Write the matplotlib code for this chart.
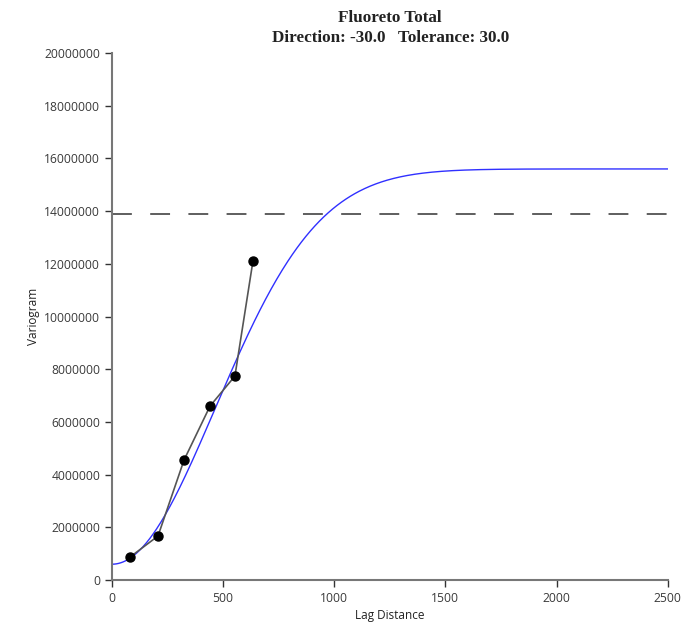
import matplotlib.pyplot as plt
import numpy as np

# experimental variogram (lag centres and semivariance)
lag = [81, 207, 324, 441, 553, 634]
gamma = [870000, 1670000, 4550000, 6600000, 7740000, 12100000]

# sample variance and fitted gaussian model
sample_var = 13890000
nugget = 600000
sill = 15000000
model_range = 1136

h = np.linspace(0, 2500, 500)
model = nugget + sill * (1 - np.exp(-3 * (h / model_range) ** 2))

fig = plt.figure(figsize=(6.87, 6.28), dpi=100)
ax = fig.add_axes([0.163, 0.0764, 0.809, 0.8392])

ax.axhline(sample_var, color='#333333', lw=1.1, dashes=(13, 12))
ax.plot(h, model, color='#3030ff', lw=1.0)
ax.plot(lag, gamma, color='#555555', lw=1.2, marker='o',
        markersize=6.5, markerfacecolor='black', markeredgecolor='black')

ax.set_xlim(0, 2500)
ax.set_ylim(0, 20000000)
ax.set_xticks([0, 500, 1000, 1500, 2000, 2500])
ax.set_yticks(np.arange(0, 20000001, 2000000))
ax.yaxis.set_major_formatter(plt.FuncFormatter(lambda v, p: f'{int(v)}'))

for s in ['top', 'right']:
    ax.spines[s].set_visible(False)
for s in ['left', 'bottom']:
    ax.spines[s].set_color('#777777')
    ax.spines[s].set_linewidth(1.5)
ax.tick_params(direction='out', length=5, width=1, color='#333333',
               labelsize=8.7, labelcolor='#3a3a3a')
for lab in ax.get_xticklabels() + ax.get_yticklabels():
    lab.set_family('Open Sans')

ax.set_xlabel('Lag Distance', fontsize=8.5, family='Open Sans', color='#222222', labelpad=3)
ax.set_ylabel('Variogram', fontsize=8.5, family='Open Sans', color='#222222', labelpad=3)

fig.text(0.568, 0.972, 'Fluoreto Total', ha='center', va='center',
         family='Liberation Serif', fontweight='bold', fontsize=12.3, color='#222222')
fig.text(0.568, 0.939, 'Direction: -30.0   Tolerance: 30.0', ha='center', va='center',
         family='Liberation Serif', fontweight='bold', fontsize=12.3, color='#222222')

fig.savefig('out.png', dpi=100)
